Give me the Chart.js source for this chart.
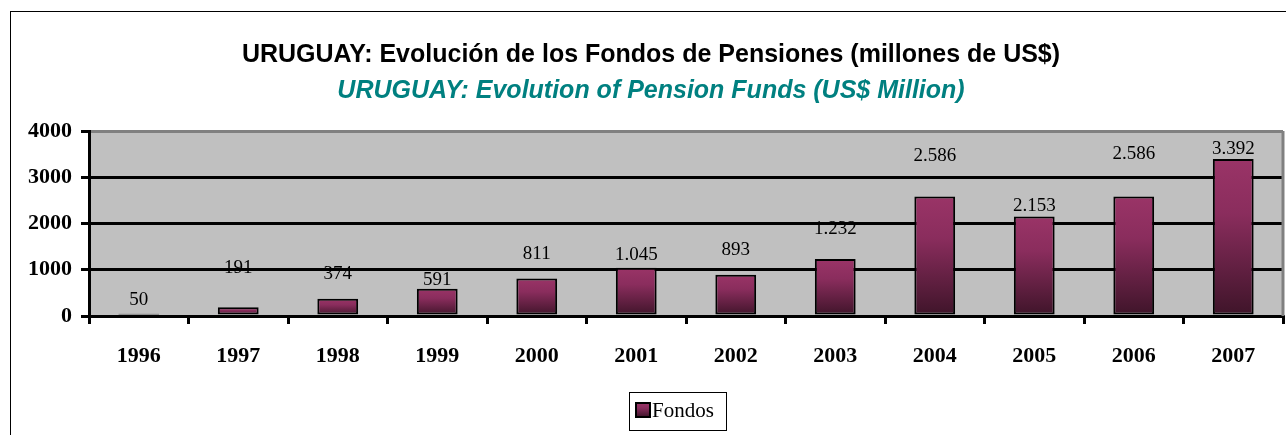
<!DOCTYPE html>
<html>
<head>
<meta charset="utf-8">
<script src="https://cdn.jsdelivr.net/npm/chart.js@4.4.0/dist/chart.umd.min.js"></script>
<style>
  html, body { margin: 0; padding: 0; background: #ffffff; }
  #wrap { width: 1286px; height: 435px; position: relative; }
</style>
</head>
<body>
<div id="wrap"><canvas id="c" width="1286" height="435"></canvas></div>
<script>
// ---- data ----
const categories = ['1996','1997','1998','1999','2000','2001','2002','2003','2004','2005','2006','2007'];
const fondos = [50, 191, 374, 591, 811, 1045, 893, 1232, 2586, 2153, 2586, 3392];
const seriesName = 'Fondos';
const yTicks = [0, 1000, 2000, 3000, 4000];
const titleText = 'URUGUAY: Evolución de los Fondos de Pensiones (millones de US$)';
const subtitleText = 'URUGUAY: Evolution of Pension Funds (US$ Million)';

// label vertical offsets (px, relative to bar top) as in the original layout
const labelOffsets = [-14, -39, -25, -9, -24, -13, -25, -30, -40, -10, -42, -10];

function fmt(v) {
  return String(v).replace(/\B(?=(\d{3})+(?!\d))/g, '.');
}

function barGradient(ctx2d, top, bottom) {
  const g = ctx2d.createLinearGradient(0, top, 0, bottom);
  g.addColorStop(0, '#9a3467');
  g.addColorStop(0.35, '#8a2d5d');
  g.addColorStop(1, '#3e1429');
  return g;
}

const framePlugin = {
  id: 'frame',
  beforeDraw(chart) {
    const { ctx, chartArea: a } = chart;
    ctx.save();
    ctx.fillStyle = '#ffffff';
    ctx.fillRect(0, 0, chart.width, chart.height);
    ctx.fillStyle = '#c0c0c0';
    ctx.fillRect(a.left, a.top, a.right - a.left, a.bottom - a.top);
    ctx.restore();
  },
  beforeDatasetsDraw(chart) {
    const { ctx, chartArea: a } = chart;
    ctx.save();
    ctx.strokeStyle = '#808080';
    ctx.lineWidth = 3;
    ctx.beginPath();
    ctx.moveTo(a.right, a.top);
    ctx.lineTo(a.right, a.bottom);
    ctx.stroke();
    ctx.restore();
  },
  afterDatasetsDraw(chart) {
    const { ctx } = chart;
    const meta = chart.getDatasetMeta(0);
    ctx.save();
    ctx.fillStyle = '#000';
    ctx.font = '19px "Liberation Serif", "Times New Roman", serif';
    ctx.textAlign = 'center';
    ctx.textBaseline = 'middle';
    meta.data.forEach((bar, i) => {
      const v = chart.data.datasets[0].data[i];
      ctx.fillText(fmt(v), bar.x, bar.y + (labelOffsets[i] || -12));
    });
    ctx.restore();
  },
  afterDraw(chart) {
    const { ctx, chartArea: a } = chart;
    ctx.save();
    // outer frame
    ctx.strokeStyle = '#000';
    ctx.lineWidth = 1;
    ctx.strokeRect(10.5, 11.5, 1400, 600);
    // legend
    const cx = (a.left + a.right) / 2 - 9;
    const lx = cx - 48, ly = 392, lw = 97, lh = 38;
    ctx.strokeRect(Math.round(lx) + 0.5, ly + 0.5, lw, lh);
    const bx = Math.round(lx) + 7, by = 403, bs = 14;
    ctx.fillStyle = barGradient(ctx, by, by + bs);
    ctx.fillRect(bx, by, bs, bs);
    ctx.lineWidth = 2;
    ctx.strokeRect(bx, by, bs, bs);
    ctx.fillStyle = '#000';
    ctx.font = '21px "Liberation Serif", "Times New Roman", serif';
    ctx.textAlign = 'left';
    ctx.textBaseline = 'middle';
    ctx.fillText(chart.data.datasets[0].label, bx + bs + 2, by + bs / 2 + 1);
    ctx.restore();
  }
};

new Chart(document.getElementById('c'), {
  type: 'bar',
  data: {
    labels: categories,
    datasets: [{
      label: seriesName,
      data: fondos,
      backgroundColor: (ctx) => {
        const chart = ctx.chart;
        if (ctx.type !== 'data' || !chart.chartArea) return '#8a2d5d';
        const y = chart.scales.y;
        const top = y.getPixelForValue(ctx.raw);
        const bottom = y.getPixelForValue(0);
        return barGradient(chart.ctx, top, bottom);
      },
      borderColor: '#000000',
      borderWidth: 2,
      borderSkipped: false,
      barPercentage: 0.41,
      categoryPercentage: 1.0
    }]
  },
  options: {
    responsive: false,
    animation: false,
    devicePixelRatio: 1,
    layout: { padding: { left: 19, right: 3, top: 30, bottom: 0 } },
    plugins: {
      legend: { display: false },
      tooltip: { enabled: false },
      title: {
        display: true,
        text: titleText,
        color: '#000000',
        font: { family: '"Liberation Sans", Arial, sans-serif', size: 25, weight: 'bold', lineHeight: 1.2 },
        padding: { top: 10, bottom: 6 }
      },
      subtitle: {
        display: true,
        text: subtitleText,
        color: '#008080',
        font: { family: '"Liberation Sans", Arial, sans-serif', size: 25, weight: 'bold', style: 'italic', lineHeight: 1.2 },
        padding: { top: 0, bottom: 25 }
      }
    },
    scales: {
      x: {
        offset: true,
        grid: {
          display: true,
          offset: true,
          drawOnChartArea: false,
          drawTicks: true,
          tickLength: 8,
          color: '#000000',
          lineWidth: 3
        },
        border: { display: true, color: '#000000', width: 3 },
        ticks: {
          color: '#000000',
          padding: 19,
          font: { family: '"Liberation Serif", "Times New Roman", serif', size: 22, weight: 'bold', lineHeight: 1.2 }
        },
        afterFit(scale) { scale.height = 119; }
      },
      y: {
        min: yTicks[0],
        max: yTicks[yTicks.length - 1],
        afterBuildTicks(scale) { scale.ticks = yTicks.map(v => ({ value: v })); },
        grid: {
          color: (c) => (c.tick && c.tick.value === 4000) ? '#808080' : '#000000',
          tickColor: '#000000',
          lineWidth: 3,
          drawTicks: true,
          tickLength: 8,
        },
        border: { display: true, color: '#000000', width: 3 },
        ticks: {
          color: '#000000',
          padding: 9,
          callback: (v) => String(v),
          font: { family: '"Liberation Serif", "Times New Roman", serif', size: 22, weight: 'bold', lineHeight: 1.2 }
        }
      }
    }
  },
  plugins: [framePlugin]
});
</script>
</body>
</html>
